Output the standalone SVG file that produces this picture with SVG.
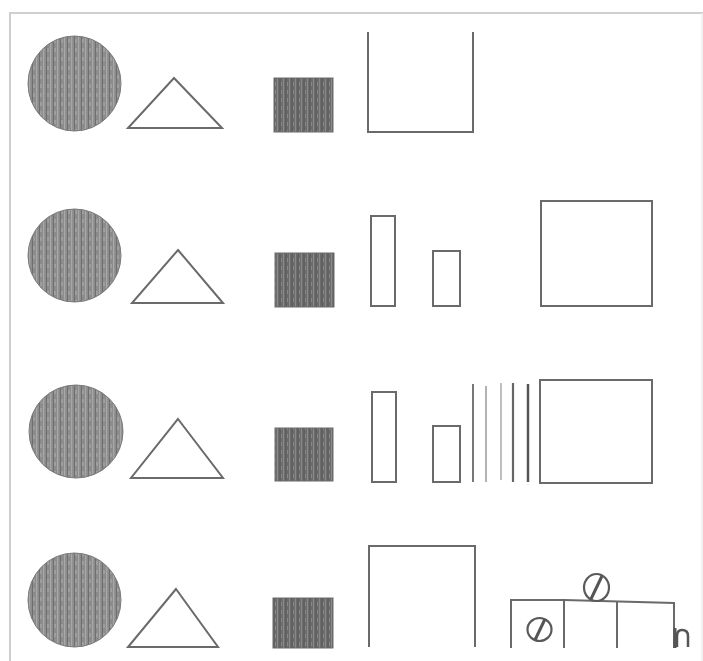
<svg xmlns="http://www.w3.org/2000/svg" width="703" height="661" viewBox="0 0 703 661">
  <defs>
    <pattern id="texLight" patternUnits="userSpaceOnUse" width="7" height="9">
      <rect width="7" height="9" fill="#8c8c8c"/>
      <rect x="1" width="1.2" height="9" fill="#a8a8a8"/>
      <rect x="4" width="1" height="9" fill="#6f6f6f"/>
      <rect x="5.5" y="3" width="1" height="4" fill="#b0b0b0"/>
    </pattern>
    <pattern id="texDark" patternUnits="userSpaceOnUse" width="6" height="8">
      <rect width="6" height="8" fill="#6c6c6c"/>
      <rect x="1" width="1" height="8" fill="#8a8a8a"/>
      <rect x="3.5" width="1" height="8" fill="#555"/>
      <rect x="5" y="2" width="0.8" height="4" fill="#909090"/>
    </pattern>
  </defs>
  <style>
    .ball { fill: url(#texLight); stroke: #7a7a7a; stroke-width: 1; }
    .blk { fill: url(#texDark); stroke: #6a6a6a; stroke-width: 1; }
    .ln { fill: none; stroke: #6a6a6a; stroke-width: 2; stroke-linejoin: miter; }
    .frame { fill: none; stroke: #cfcfcf; stroke-width: 2; }
  </style>
  <rect width="703" height="661" fill="#ffffff"/>
  <g id="frame">
    <path class="frame" d="M10,661 V13 H703"/>
    <line x1="702" y1="13" x2="702" y2="661" stroke="#ececec" stroke-width="1.5"/>
  </g>

  <!-- Row 1 -->
  <g id="r1-circle"><ellipse class="ball" cx="74.5" cy="83.5" rx="46.5" ry="47.5"/></g>
  <g id="r1-triangle"><polygon class="ln" points="174,78 222,128 128,128"/></g>
  <g id="r1-square"><rect class="blk" x="274" y="78" width="59" height="54"/></g>
  <g id="r1-cup"><path class="ln" d="M368,32 V132 H473 V32"/></g>

  <!-- Row 2 -->
  <g id="r2-circle"><ellipse class="ball" cx="74.5" cy="255.5" rx="46.5" ry="46.5"/></g>
  <g id="r2-triangle"><polygon class="ln" points="178,250 223,303 132,303"/></g>
  <g id="r2-square"><rect class="blk" x="275" y="253" width="59" height="54"/></g>
  <g id="r2-tall"><rect class="ln" x="371" y="216" width="24" height="90"/></g>
  <g id="r2-small"><rect class="ln" x="433" y="251" width="27" height="55"/></g>
  <g id="r2-big"><rect class="ln" x="541" y="201" width="111" height="105"/></g>

  <!-- Row 3 -->
  <g id="r3-circle"><ellipse class="ball" cx="76" cy="431.5" rx="47" ry="46.5"/></g>
  <g id="r3-triangle"><polygon class="ln" points="178,419 223,478 131,478"/></g>
  <g id="r3-square"><rect class="blk" x="275" y="428" width="58" height="53"/></g>
  <g id="r3-tall"><rect class="ln" x="372" y="392" width="24" height="90"/></g>
  <g id="r3-small"><rect class="ln" x="433" y="426" width="27" height="56"/></g>
  <g id="r3-lines">
    <line x1="473" y1="384" x2="473" y2="482" stroke="#777" stroke-width="2"/>
    <line x1="486" y1="386" x2="486" y2="482" stroke="#999" stroke-width="1.5"/>
    <line x1="501" y1="383" x2="501" y2="480" stroke="#aaa" stroke-width="1.5"/>
    <line x1="513" y1="383" x2="513" y2="482" stroke="#666" stroke-width="2.2"/>
    <line x1="528" y1="384" x2="528" y2="482" stroke="#555" stroke-width="2.5"/>
  </g>
  <g id="r3-big"><rect class="ln" x="540" y="380" width="112" height="103"/></g>

  <!-- Row 4 -->
  <g id="r4-circle"><ellipse class="ball" cx="74.5" cy="600" rx="46.5" ry="47"/></g>
  <g id="r4-triangle"><polygon class="ln" points="176,589 218,647 128,647"/></g>
  <g id="r4-square"><rect class="blk" x="273" y="598" width="60" height="50"/></g>
  <g id="r4-arch"><path class="ln" d="M369,647 V546 H475 V647"/></g>
  <g id="r4-structure">
    <path class="ln" d="M511,648 V600 H564 L674,603 V648"/>
    <line class="ln" x1="564" y1="600" x2="564" y2="648"/>
    <line class="ln" x1="617" y1="602" x2="617" y2="648"/>
    <ellipse cx="596.5" cy="587.5" rx="12.5" ry="13.5" fill="#fff" stroke="#5a5a5a" stroke-width="2.2"/>
    <line x1="591" y1="599" x2="602" y2="576" stroke="#555" stroke-width="3"/>
    <ellipse cx="539.5" cy="629.5" rx="12" ry="11.5" fill="#fff" stroke="#5a5a5a" stroke-width="2.2"/>
    <line x1="535" y1="640" x2="545" y2="619" stroke="#555" stroke-width="3"/>
    <path d="M677,647 V636 Q677,630 682,630 Q688,630 688,636 V647" fill="none" stroke="#555" stroke-width="2.5"/>
    <line x1="675" y1="628" x2="675" y2="648" stroke="#555" stroke-width="3"/>
  </g>
</svg>
